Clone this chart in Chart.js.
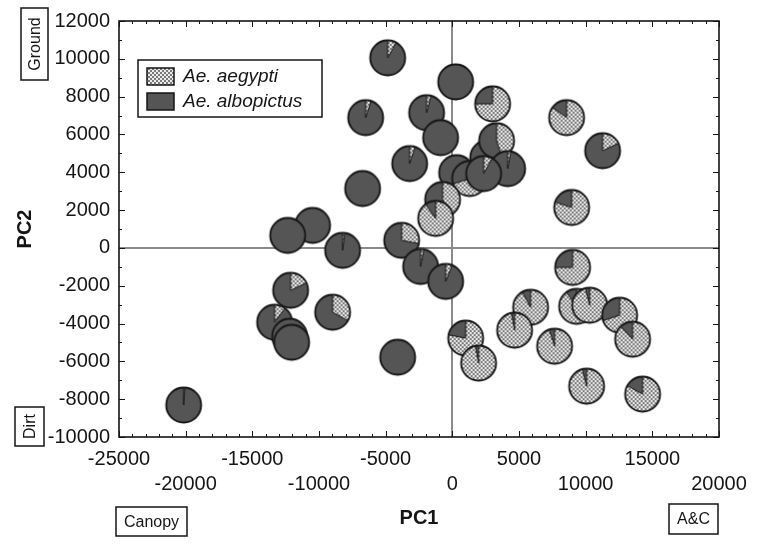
<!DOCTYPE html>
<html>
<head>
<meta charset="utf-8">
<script src="https://cdn.jsdelivr.net/npm/chart.js@4.4.1/dist/chart.umd.min.js"></script>
<style>
  html, body { margin: 0; padding: 0; background: #fff; }
  #wrap { width: 759px; height: 546px; }
</style>
</head>
<body>
<div id="wrap"><canvas id="pca" width="759" height="546"></canvas></div>
<script>
// PCA scores per site and share of Ae. aegypti in the catch
const pc1 = [-4850, 250, 3020, 8570, 11270, -6500, -1930, -880, -3200, -6730,
  2650, 3320, 4150, 320, 1300, 2350, -730, -1250, -10480, -12350,
  -8230, -3800, -2380, -500, -12130, -8980, -13330, -12200, -12050, -4100,
  -20150, 8950, 9020, 5870, 4670, 1000, 1970, 7670, 9320, 10300,
  12550, 13520, 10070, 14270];
const pc2 = [10050, 8780, 7620, 6890, 5140, 6890, 7150, 5830, 4460, 3140,
  4770, 5670, 4190, 3980, 3670, 3930, 2560, 1560, 1190, 660,
  -130, 400, -980, -1770, -2240, -3400, -3930, -4670, -4990, -5780,
  -8310, 2140, -1030, -3140, -4350, -4770, -6090, -5200, -3090, -3030,
  -3560, -4830, -7310, -7730];
const aegyptiShare = [0.08, 0, 0.75, 0.85, 0.18, 0.05, 0.04, 0, 0.05, 0,
  0.3, 0.45, 0.03, 0, 0.7, 0.08, 0.45, 0.9, 0, 0,
  0.02, 0.28, 0.03, 0.06, 0.18, 0.33, 0.1, 0, 0, 0,
  0.01, 0.8, 0.75, 0.92, 0.97, 0.78, 0.97, 0.95, 0.9, 0.96,
  0.7, 0.88, 0.96, 0.83];
const seriesNames = ['Ae. aegypti', 'Ae. albopictus'];
const xTicks = [-25000, -20000, -15000, -10000, -5000, 0, 5000, 10000, 15000, 20000];
const yTicks = [-10000, -8000, -6000, -4000, -2000, 0, 2000, 4000, 6000, 8000, 10000, 12000];
const axisTitles = ['PC1', 'PC2'];
const cornerLabels = ['Ground', 'Dirt', 'Canopy', 'A&C'];

const DARK = '#555555';
const INK = '#151515';
const FONT = "'Liberation Sans', Arial, sans-serif";

function hatch(g) {
  const t = document.createElement('canvas');
  t.width = 4; t.height = 4;
  const tg = t.getContext('2d');
  tg.fillStyle = '#ececec'; tg.fillRect(0, 0, 4, 4);
  tg.fillStyle = '#7a7a7a'; tg.fillRect(0, 0, 2, 2); tg.fillRect(2, 2, 2, 2);
  return g.createPattern(t, 'repeat');
}

function makePie(share) {
  const c = document.createElement('canvas');
  c.width = 40; c.height = 40;
  const g = c.getContext('2d');
  const cx = 20, cy = 20, r = 17.5;
  const start = -Math.PI / 2;
  const mid = start + share * Math.PI * 2;
  g.fillStyle = DARK;
  g.beginPath(); g.arc(cx, cy, r, 0, Math.PI * 2); g.fill();
  if (share > 0) {
    g.fillStyle = hatch(g);
    g.beginPath(); g.moveTo(cx, cy); g.arc(cx, cy, r, start, mid); g.closePath(); g.fill();
    g.strokeStyle = INK; g.lineWidth = 1;
    g.beginPath();
    g.moveTo(cx, cy - r); g.lineTo(cx, cy);
    g.lineTo(cx + r * Math.cos(mid), cy + r * Math.sin(mid));
    g.stroke();
  }
  g.strokeStyle = INK; g.lineWidth = 1.8;
  g.beginPath(); g.arc(cx, cy, r, 0, Math.PI * 2); g.stroke();
  return c;
}

const pies = aegyptiShare.map(makePie);

function boxText(ctx, text, cx, cy, w, h, vertical) {
  ctx.save();
  ctx.translate(cx, cy);
  if (vertical) ctx.rotate(-Math.PI / 2);
  ctx.fillStyle = '#fff';
  ctx.fillRect(-w / 2, -h / 2, w, h);
  ctx.strokeStyle = INK; ctx.lineWidth = 1.5;
  ctx.strokeRect(-w / 2, -h / 2, w, h);
  ctx.fillStyle = INK;
  ctx.font = '16px ' + FONT;
  ctx.textAlign = 'center'; ctx.textBaseline = 'middle';
  ctx.fillText(text, 0, 1);
  ctx.restore();
}

const framePlugin = {
  id: 'frame',
  afterDraw(chart) {
    const {ctx, chartArea: a, scales: {x, y}} = chart;
    ctx.save();
    ctx.strokeStyle = INK;
    ctx.lineWidth = 1;
    ctx.beginPath();
    for (let v = x.min; v <= x.max; v += 1000) {
      const px = Math.round(x.getPixelForValue(v)) + 0.5;
      const len = v % 5000 === 0 ? 6 : 3;
      ctx.moveTo(px, a.bottom); ctx.lineTo(px, a.bottom - len);
      ctx.moveTo(px, a.top); ctx.lineTo(px, a.top + len);
    }
    for (let v = y.min; v <= y.max; v += 1000) {
      const py = Math.round(y.getPixelForValue(v)) + 0.5;
      const len = v % 2000 === 0 ? 6 : 3;
      ctx.moveTo(a.left, py); ctx.lineTo(a.left + len, py);
      ctx.moveTo(a.right, py); ctx.lineTo(a.right - len, py);
    }
    ctx.stroke();
    ctx.lineWidth = 1.6;
    ctx.strokeRect(a.left, a.top, a.right - a.left, a.bottom - a.top);

    // legend
    ctx.lineWidth = 1.5;
    ctx.fillStyle = '#fff';
    ctx.fillRect(138, 60, 184, 57);
    ctx.strokeRect(138, 60, 184, 57);
    ctx.fillStyle = hatch(ctx);
    ctx.fillRect(147, 68, 27, 17);
    ctx.strokeRect(147, 68, 27, 17);
    ctx.fillStyle = DARK;
    ctx.fillRect(147, 93, 27, 17);
    ctx.strokeRect(147, 93, 27, 17);
    ctx.fillStyle = INK;
    ctx.font = 'italic 19px ' + FONT;
    ctx.textAlign = 'left'; ctx.textBaseline = 'middle';
    ctx.fillText(seriesNames[0], 183, 77);
    ctx.fillText(seriesNames[1], 183, 102);
    ctx.restore();

    boxText(ctx, cornerLabels[0], 34.5, 44, 72, 27, true);
    boxText(ctx, cornerLabels[1], 29.5, 426.5, 39, 29, true);
    boxText(ctx, cornerLabels[2], 151.5, 521.5, 71, 29, false);
    boxText(ctx, cornerLabels[3], 693.5, 519, 49, 30, false);
  }
};

const zeroLine = c => (c.tick && c.tick.value === 0) ? '#8a8a8a' : 'rgba(0,0,0,0)';

new Chart(document.getElementById('pca'), {
  type: 'scatter',
  data: {
    datasets: [{
      label: 'sites',
      data: pc1.map((v, i) => ({x: v, y: pc2[i]})),
      pointStyle: c => pies[c.dataIndex],
      pointRadius: 18,
      pointHoverRadius: 18
    }]
  },
  options: {
    responsive: false,
    animation: false,
    devicePixelRatio: 1,
    events: [],
    layout: { padding: { left: 0, right: 40, top: 20, bottom: 0 } },
    plugins: { legend: { display: false }, tooltip: { enabled: false } },
    scales: {
      x: {
        type: 'linear',
        min: -25000, max: 20000,
        afterBuildTicks: s => { s.ticks = xTicks.map(v => ({value: v})); },
        afterFit: s => { s.height = 109; },
        border: { display: false },
        grid: { color: zeroLine, lineWidth: 2, drawTicks: false },
        ticks: {
          autoSkip: false, maxRotation: 0, padding: 10, color: INK,
          font: { family: FONT, size: 20, lineHeight: 1.25 },
          callback: (v, i) => i % 2 === 0 ? String(v) : ['', String(v)]
        },
        title: {
          display: true, text: axisTitles[0], color: INK,
          font: { family: FONT, size: 20, weight: 'bold', lineHeight: 1.2 },
          padding: { top: 0, bottom: 16 }
        }
      },
      y: {
        type: 'linear',
        min: -10000, max: 12000,
        afterBuildTicks: s => { s.ticks = yTicks.map(v => ({value: v})); },
        afterFit: s => { s.width = 119; },
        border: { display: false },
        grid: { color: zeroLine, lineWidth: 2, drawTicks: false },
        ticks: {
          padding: 9, color: INK,
          font: { family: FONT, size: 20 },
          callback: v => String(v)
        },
        title: {
          display: true, text: axisTitles[1], color: INK,
          font: { family: FONT, size: 20, weight: 'bold', lineHeight: 1.2 },
          padding: { top: 13, bottom: 0 }
        }
      }
    }
  },
  plugins: [framePlugin]
});
</script>
</body>
</html>
